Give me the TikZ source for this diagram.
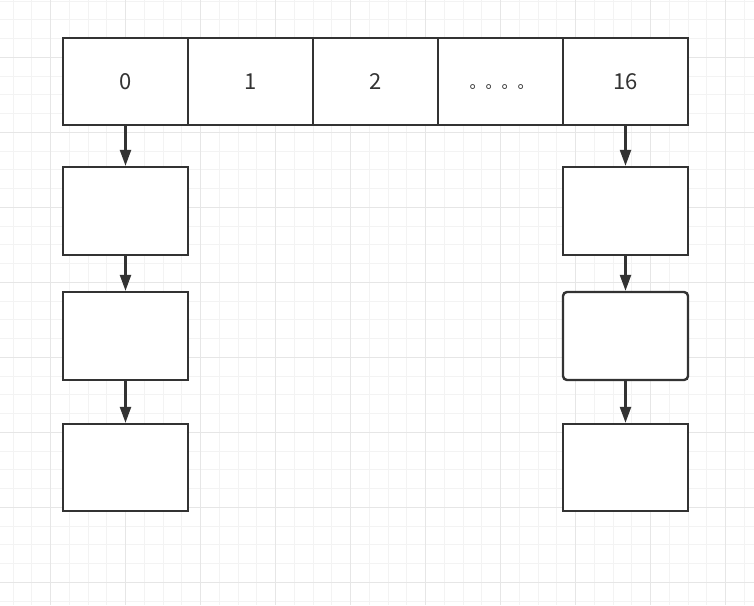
\documentclass[tikz,border=0pt]{standalone}
\usepackage{fontspec}
\setmainfont{Noto Sans CJK SC}
\usetikzlibrary{arrows.meta}
\definecolor{linedark}{HTML}{333333}
\definecolor{gridminor}{HTML}{F3F3F3}
\definecolor{gridmajor}{HTML}{E6E6E6}

\begin{document}
\begin{tikzpicture}[x=1pt, y=-1pt,
  cell/.style={rectangle, draw=linedark, line width=2.4pt, fill=white, minimum width=125pt, minimum height=87pt, inner sep=0pt, font=\fontsize{22}{26}\selectfont, text=linedark},
  chainbox/.style={cell, minimum height=88pt},
  arrow/.style={-{Triangle[length=16pt, width=11pt]}, line width=2.4pt, draw=linedark},
  minor/.style={draw=gridminor, line width=1pt},
  major/.style={draw=gridmajor, line width=1pt},
]
\useasboundingbox (0,0) rectangle (754,605);
\fill[white] (0,0) rectangle (754,605);

% === BACKGROUND GRID ===
\foreach \i in {0,...,40} {
  \draw[minor] ({13.2+18.75*\i},0) -- ++(0,605);
  \draw[minor] (0,{1+18.75*\i}) -- ++(754,0);
}
\foreach \i in {0,...,9} {
  \draw[major] ({50.7+75*\i},0) -- ++(0,605);
  \draw[major] (0,{57.3+75*\i}) -- ++(754,0);
}

% === TABLE ===
\node[cell] (c0) at (125.5, 81.5) {0};
\node[cell] (c1) at (250.5, 81.5) {1};
\node[cell] (c2) at (375.5, 81.5) {2};
\node[cell] (cdots) at (500.5, 81.5) {};
\node[font=\fontsize{16}{18}\selectfont, text=linedark, inner sep=0pt] (dots) at (501.5, 87) {。。。。};
\node[cell] (c16) at (625.5, 81.5) {16};

% === CHAINS ===
\node[chainbox] (l1) at (125.5, 211) {};
\node[chainbox] (l2) at (125.5, 336) {};
\node[cell] (l3) at (125.5, 467.5) {};

\node[chainbox] (r1) at (625.5, 211) {};
\node[chainbox, rounded corners=4pt] (r2) at (625.5, 336) {};
\node[cell] (r3) at (625.5, 467.5) {};

\draw[arrow] (c0) -- (l1);
\draw[arrow] (l1) -- (l2);
\draw[arrow] (l2) -- (l3);
\draw[arrow] (c16) -- (r1);
\draw[arrow] (r1) -- (r2);
\draw[arrow] (r2) -- (r3);
\end{tikzpicture}
\end{document}
